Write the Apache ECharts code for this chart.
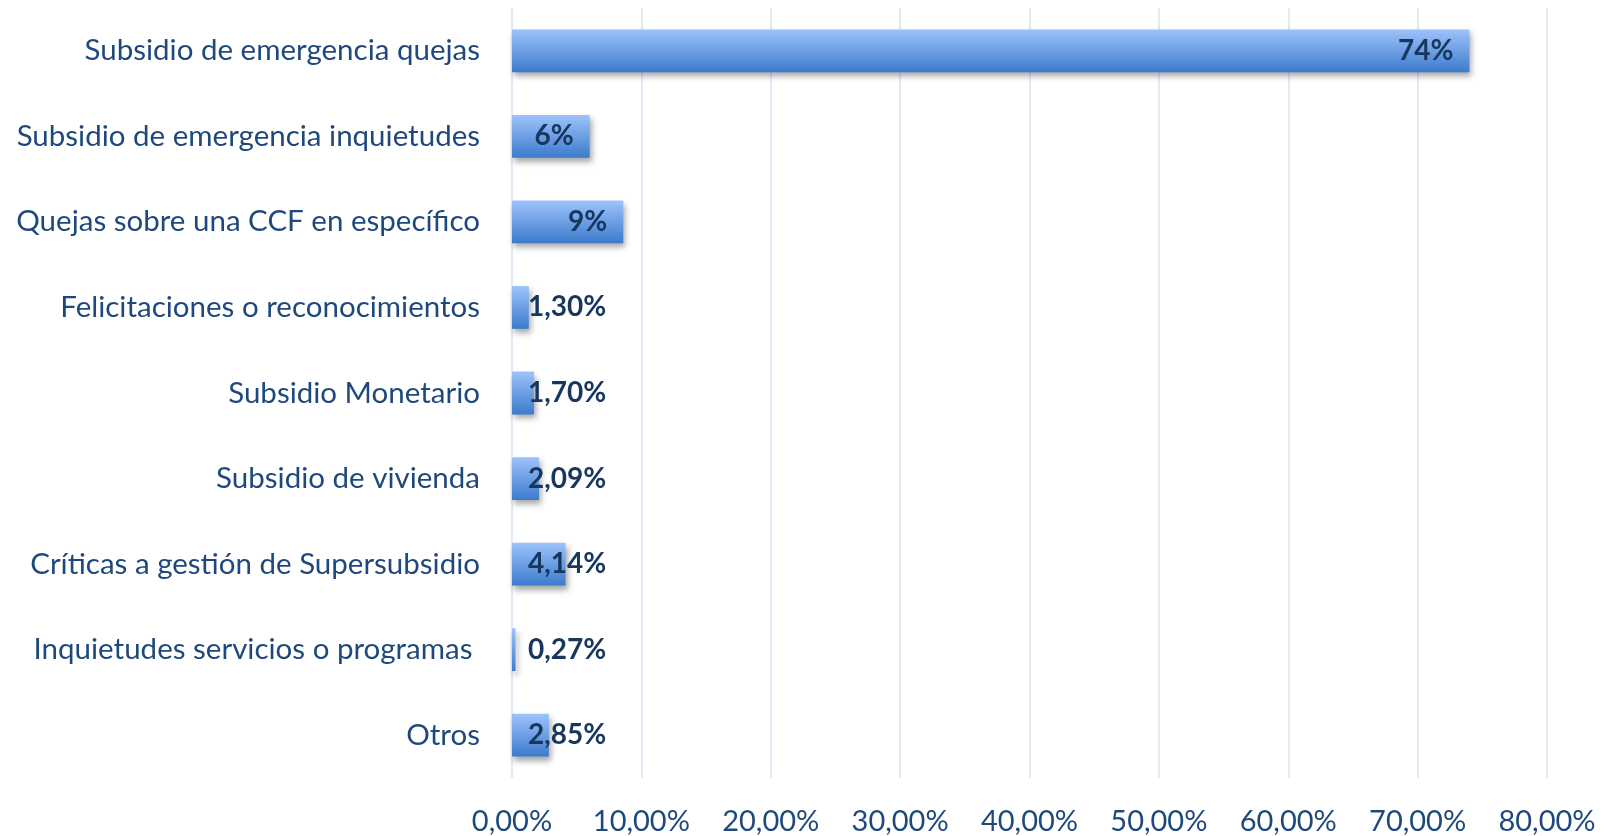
<!DOCTYPE html>
<html lang="es">
<head>
    <meta charset="UTF-8">
    <title>Quejas y reclamos</title>
    <style>
        html, body {
            margin: 0;
            padding: 0;
            background: #ffffff;
        }
        #chart {
            width: 1609px;
            height: 836px;
        }
    </style>
    <script src="https://cdn.jsdelivr.net/npm/echarts@6/dist/echarts.min.js"></script>
</head>
<body>
    <div id="chart"></div>
    <script>
        // categorías (de arriba hacia abajo)
        const categories = [
            'Subsidio de emergencia quejas',
            'Subsidio de emergencia inquietudes',
            'Quejas sobre una CCF en específico',
            'Felicitaciones o reconocimientos',
            'Subsidio Monetario',
            'Subsidio de vivienda',
            'Críticas a gestión de Supersubsidio',
            'Inquietudes servicios o programas ',
            'Otros'
        ];
        const values = [74, 6, 8.6, 1.30, 1.70, 2.09, 4.14, 0.27, 2.85];
        const valueLabels = ['74%', '6%', '9%', '1,30%', '1,70%', '2,09%', '4,14%', '0,27%', '2,85%'];
        const tickLabels = ['0,00%', '10,00%', '20,00%', '30,00%', '40,00%', '50,00%', '60,00%', '70,00%', '80,00%'];

        const font = 'Lato, "Open Sans", sans-serif';

        const chart = echarts.init(document.getElementById('chart'));

        // etiquetas dentro al final si caben, si no desde el inicio
        const barData = values.map(v => ({
            value: v,
            label: {
                position: v >= 5 ? 'insideRight' : 'insideLeft',
                distance: 16
            }
        }));

        chart.setOption({
            animation: false,
            grid: {
                left: 512,
                right: 62,
                top: 8,
                bottom: 57
            },
            xAxis: {
                type: 'value',
                min: 0,
                max: 80,
                interval: 10,
                axisLine: { show: false },
                axisTick: { show: false },
                splitLine: {
                    lineStyle: { color: '#d6e3f5', width: 1.5 }
                },
                axisLabel: {
                    color: '#1f497d',
                    fontFamily: font,
                    fontSize: 29,
                    margin: 29,
                    formatter: v => tickLabels[Math.round(v / 10)]
                }
            },
            yAxis: {
                type: 'category',
                inverse: true,
                data: categories,
                axisLine: { show: false },
                axisTick: { show: false },
                axisLabel: {
                    color: '#1f497d',
                    fontFamily: font,
                    fontSize: 29.5,
                    margin: 32,
                    padding: [5, 0, 0, 0]
                }
            },
            series: [{
                type: 'bar',
                data: barData,
                barWidth: '50%',
                itemStyle: {
                    color: new echarts.graphic.LinearGradient(0, 0, 0, 1, [
                        { offset: 0, color: '#9dc3fb' },
                        { offset: 1, color: '#3c7bcc' }
                    ]),
                    shadowColor: 'rgba(0, 0, 0, 0.35)',
                    shadowBlur: 6,
                    shadowOffsetX: 2,
                    shadowOffsetY: 4
                },
                label: {
                    show: true,
                    color: '#17375e',
                    fontFamily: font,
                    fontWeight: 'bold',
                    fontSize: 28,
                    padding: [5, 0, 0, 0],
                    formatter: p => valueLabels[p.dataIndex]
                }
            }]
        });
    </script>
</body>
</html>
